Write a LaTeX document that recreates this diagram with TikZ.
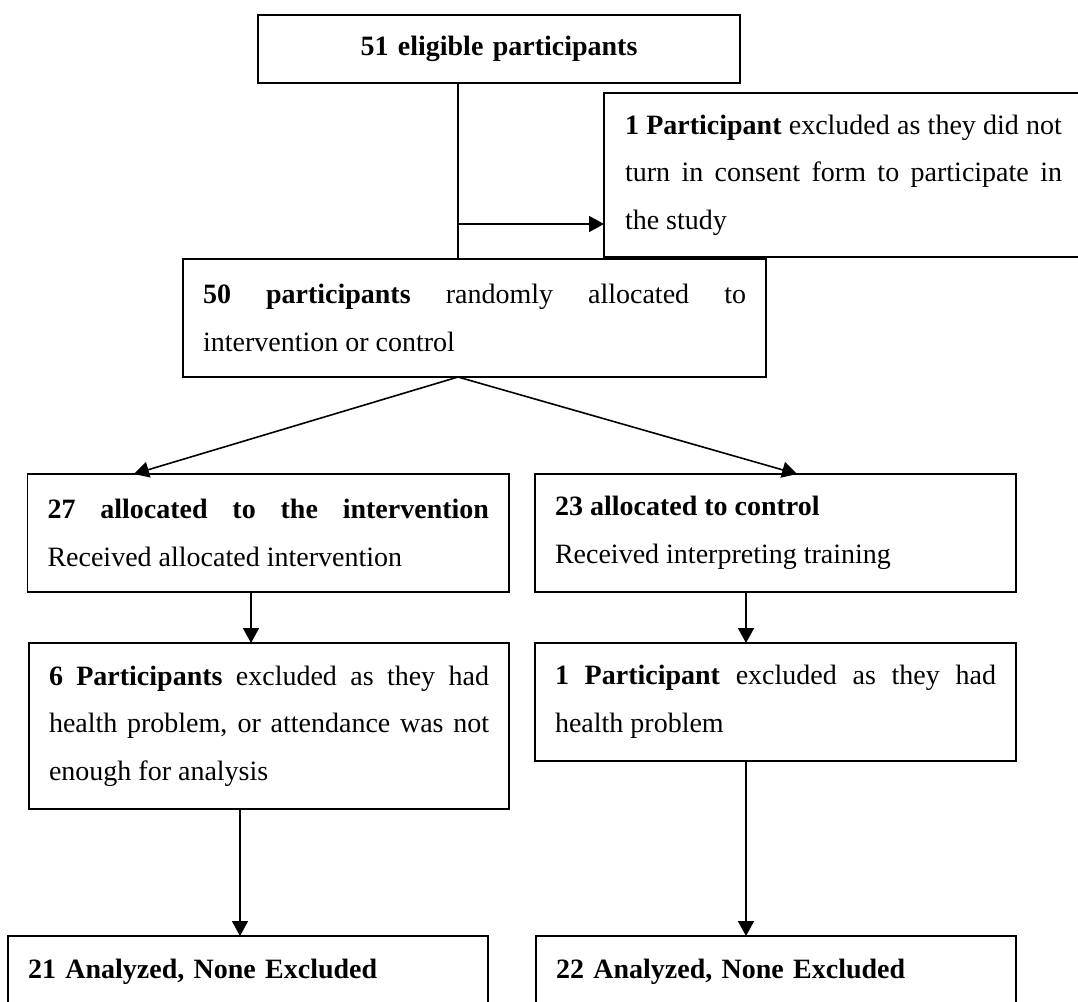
\documentclass[tikz,border=0pt]{standalone}
\usepackage{fontspec}
\setmainfont{Liberation Serif}
\usetikzlibrary{arrows.meta,calc}
\tolerance=10000
\hbadness=10000
\begin{document}
\begin{tikzpicture}[x=1pt,y=-1pt,
  box/.style={draw, line width=1.8pt, rectangle, anchor=north west,
    inner xsep=20pt, inner ysep=0pt, outer sep=0pt, align=justify,
    font=\fontsize{28}{47.5}\selectfont},
  conn/.style={line width=1.6pt},
  arr/.style={conn, -{Triangle[length=15pt,width=16pt]}}]
\useasboundingbox (0,0) rectangle (1078,1001);
\clip (0,0) rectangle (1078,1001);

\node[box, align=center, text width=442pt, minimum height=68pt] (top) at (258,15)
  {\textbf{51 eligible participants}};
\node[box, inner xsep=21pt, text width=437pt, minimum height=164pt] (excl) at (604,93)
  {\textbf{1 Participant} excluded as they did not\linebreak turn in consent form to participate in\linebreak the study};
\node[box, text width=543pt, minimum height=118pt] (fifty) at (183,259)
  {\textbf{50 participants} randomly allocated to\linebreak intervention or control};
\node[box, text width=441.5pt, minimum height=118pt] (b27) at (27.5,474)
  {\textbf{27 allocated to the intervention}\linebreak Received allocated intervention};
\node[box, text width=441pt, minimum height=118pt] (b23) at (535,474)
  {\textbf{23 allocated to control}\\ Received interpreting training};
\node[box, text width=440pt, minimum height=166pt] (b6) at (29,643)
  {\textbf{6 Participants} excluded as they had\linebreak health problem, or attendance was not\linebreak enough for analysis};
\node[box, text width=441pt, minimum height=118pt] (b1) at (535,643)
  {\textbf{1 Participant} excluded as they had\linebreak health problem};
\node[box, align=left, text width=440pt, minimum height=72pt] (b21) at (8,936)
  {\textbf{21 Analyzed, None Excluded}};
\node[box, align=left, text width=440pt, minimum height=72pt] (b22) at (536,936)
  {\textbf{22 Analyzed, None Excluded}};

\coordinate (sx) at (458,224);
\coordinate (xa) at (251,0);
\coordinate (xb) at (240,0);
\coordinate (xc) at (746,0);

\draw[conn] (sx |- top.south) -- (sx |- fifty.north);
\draw[arr] (sx) -- (sx -| excl.west);
\draw[arr] (sx |- fifty.south) -- ($(b27.north west)!0.221!(b27.north east)$);
\draw[arr] (sx |- fifty.south) -- ($(b23.north west)!0.545!(b23.north east)$);
\draw[arr] (xa |- b27.south) -- (xa |- b6.north);
\draw[arr] (xc |- b23.south) -- (xc |- b1.north);
\draw[arr] (xb |- b6.south) -- (xb |- b21.north);
\draw[arr] (xc |- b1.south) -- (xc |- b22.north);
\end{tikzpicture}
\end{document}
